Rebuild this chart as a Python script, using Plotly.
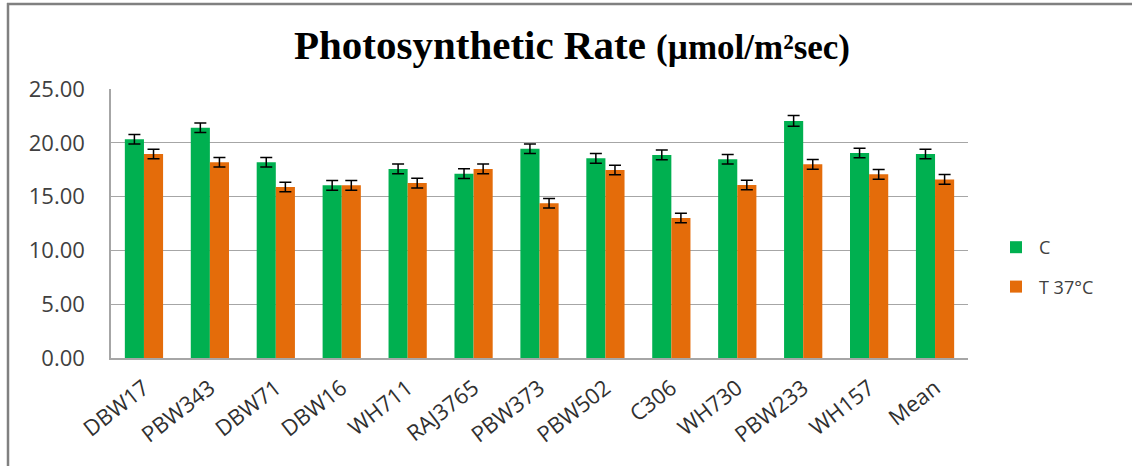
import plotly.graph_objects as go

categories = ["DBW17", "PBW343", "DBW71", "DBW16", "WH711", "RAJ3765", "PBW373",
              "PBW502", "C306", "WH730", "PBW233", "WH157", "Mean"]
control = [20.33, 21.40, 18.19, 16.05, 17.57, 17.13, 19.45,
           18.56, 18.87, 18.47, 22.03, 19.05, 18.96]
treated = [18.96, 18.19, 15.89, 16.05, 16.26, 17.57, 14.38,
           17.47, 13.01, 16.08, 18.00, 17.07, 16.60]
control_err = [0.45, 0.45, 0.45, 0.45, 0.45, 0.45, 0.45,
               0.45, 0.45, 0.45, 0.50, 0.45, 0.45]
treated_err = [0.45, 0.45, 0.45, 0.45, 0.45, 0.45, 0.45,
               0.45, 0.45, 0.45, 0.45, 0.45, 0.45]
y_ticks = [0, 5, 10, 15, 20, 25]
y_tick_labels = ["0.00", "5.00", "10.00", "15.00", "20.00", "25.00"]

W, H = 1132, 466
L, R, T, B = 111, 164, 89, 108

fig = go.Figure()
fig.add_trace(go.Bar(
    name="C", x=categories, y=control, legendgroup="c",
    marker=dict(color="#00B050", line=dict(width=0)),
    error_y=dict(type="data", array=control_err, color="#000000", thickness=1.5, width=6),
))
fig.add_trace(go.Bar(
    name="T 37°C", x=categories, y=treated, legendgroup="t",
    marker=dict(color="#E46C0A", line=dict(width=0)),
    error_y=dict(type="data", array=treated_err, color="#000000", thickness=1.5, width=6),
))

pw, ph = W - L - R, H - T - B
def px_x(p):
    return (p - L) / pw
def px_y(p):
    return (H - B - p) / ph

shapes = [
    dict(type="line", xref="paper", yref="paper", x0=px_x(7), x1=px_x(1140),
         y0=px_y(4), y1=px_y(4), line=dict(color="#808080", width=2.5)),
    dict(type="line", xref="paper", yref="paper", x0=px_x(8), x1=px_x(8),
         y0=px_y(3), y1=px_y(470), line=dict(color="#808080", width=2.5)),
]

fig.update_layout(
    width=W, height=H,
    margin=dict(l=L, r=R, t=T, b=B, autoexpand=False),
    paper_bgcolor="white", plot_bgcolor="white",
    barmode="group", bargap=0.42, bargroupgap=0.0,
    title=dict(
        text="<b>Photosynthetic Rate <span style='font-size:35px'>(µmol/m²sec)</span></b>",
        font=dict(family="Liberation Serif", size=41, color="#000000"),
        x=572 / W, xanchor="center", xref="container",
        y=1 - 45 / H, yanchor="middle", yref="container",
    ),
    font=dict(family="Open Sans", size=18, color="#404040"),
    legend=dict(
        x=px_x(993), y=px_y(229), xanchor="left", yanchor="top",
        font=dict(family="Open Sans", size=18, color="#404040"),
        tracegroupgap=13, itemwidth=36, bgcolor="rgba(0,0,0,0)",
    ),
    shapes=shapes,
    showlegend=True,
)
fig.update_xaxes(
    showline=True, linecolor="#A6A6A6", linewidth=1.5,
    tickangle=-38, tickfont=dict(family="Open Sans", size=22, color="#303030"),
    ticks="outside", ticklen=7, tickcolor="rgba(255,255,255,0)", showgrid=False,
)
fig.update_yaxes(
    range=[0, 25], tickvals=y_ticks, ticktext=y_tick_labels,
    showline=True, linecolor="#A6A6A6", linewidth=1.5,
    showgrid=True, gridcolor="#A6A6A6", gridwidth=1.2,
    tickfont=dict(family="Open Sans", size=22, color="#404040"),
    ticks="outside", ticklen=20, tickcolor="rgba(255,255,255,0)", zeroline=False,
)

fig.write_html("out.html", config={"displayModeBar": False},
               post_script="document.body.style.margin='0px';")
